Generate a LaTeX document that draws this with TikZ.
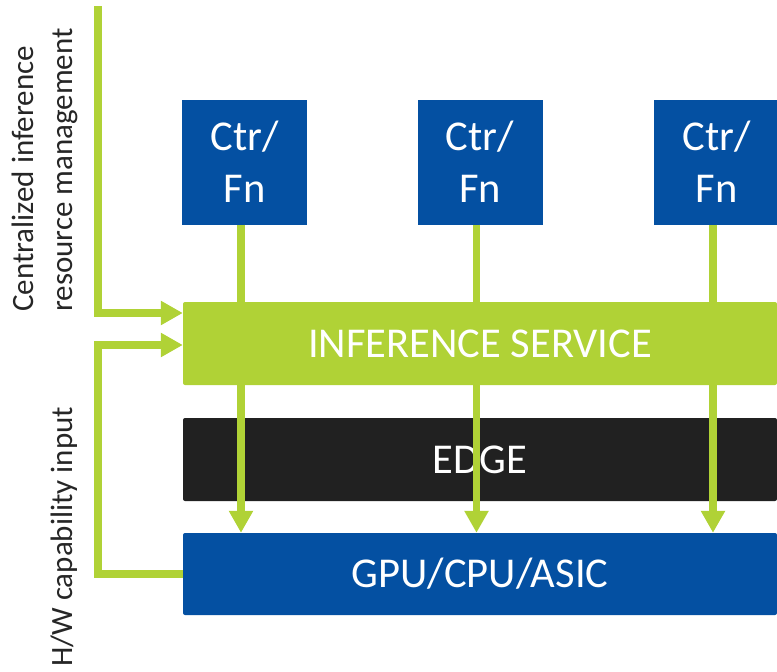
\documentclass[tikz,border=0pt]{standalone}
\usepackage{fontspec}
\setmainfont{Carlito}
\usetikzlibrary{arrows.meta}
\definecolor{grn}{HTML}{B0D236}
\definecolor{blu}{HTML}{0450A2}
\definecolor{blk}{HTML}{212121}
\definecolor{txt}{HTML}{262626}
\tikzset{
  ctrbox/.style={rectangle, fill=blu, text=white, minimum width=125pt, minimum height=125pt,
    inner sep=0pt, align=center, font=\fontsize{42.5}{52}\selectfont},
  layer/.style={rectangle, rounded corners=2pt, minimum width=594pt, minimum height=83pt,
    inner sep=0pt, text=white, font=\fontsize{42.5}{50}\selectfont},
  flow/.style={draw=grn, line width=7.5pt},
  flowarrow/.style={flow, -{Triangle[width=23pt,length=22pt]}},
  sidelabel/.style={rotate=90, anchor=south west, inner sep=0pt, align=left, text=txt,
    font=\fontsize{31}{39}\selectfont}
}
\begin{document}
\begin{tikzpicture}[x=1pt,y=-1pt]
\useasboundingbox (0,0) rectangle (777,672);
% Ctr/Fn boxes
\node[ctrbox] (c1) at (244.5,162) {Ctr/\\Fn};
\node[ctrbox] (c2) at (480,162) {Ctr/\\Fn};
\node[ctrbox] (c3) at (716.5,162) {Ctr/\\Fn};
% layers
\node[layer, fill=blk] (edge) at (480,459.5) {EDGE};
\node[layer, fill=blu, minimum height=82pt] (gpu) at (480,574) {GPU/CPU/ASIC};
% side labels
\node[sidelabel] (lab1) at (78,312) {Centralized inference\\resource management};
\node[sidelabel] (lab2) at (78,667) {H/W capability input};
% connectors
\coordinate (cstart) at (98,6);
\foreach \c in {c1,c2,c3}{
  \draw[flowarrow] ([xshift=-3.5pt]\c.south) -- ([xshift=-3.5pt]\c.south |- gpu.north);
}
\node[layer, fill=grn] (inf) at (480,343.5) {INFERENCE SERVICE};
\draw[flowarrow] (cstart) |- ([yshift=30.5pt]inf.west);
\draw[flowarrow] (gpu.west) -- (gpu.west -| cstart) |- ([yshift=-1.5pt]inf.west);
\end{tikzpicture}
\end{document}
